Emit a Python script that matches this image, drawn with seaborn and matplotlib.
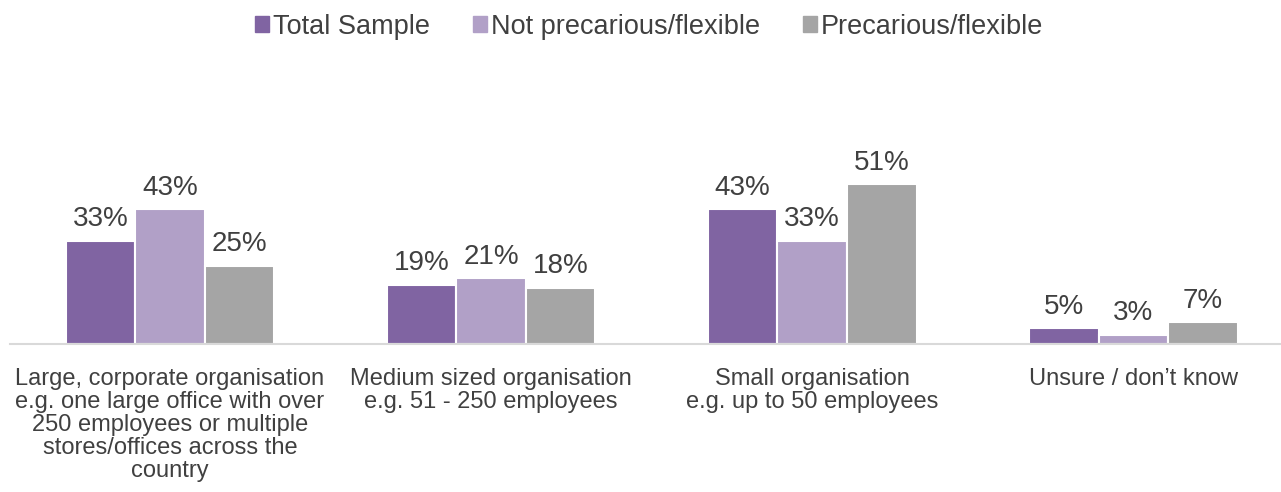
import matplotlib
matplotlib.use("Agg")
import matplotlib.pyplot as plt
import seaborn as sns
import pandas as pd

categories = [
    "Large, corporate organisation\ne.g. one large office with over\n250 employees or multiple\nstores/offices across the\ncountry",
    "Medium sized organisation\ne.g. 51 - 250 employees",
    "Small organisation\ne.g. up to 50 employees",
    "Unsure / don\u2019t know",
]
series = ["Total Sample", "Not precarious/flexible", "Precarious/flexible"]
total_sample = [33, 19, 43, 5]
not_precarious = [43, 21, 33, 3]
precarious = [25, 18, 51, 7]
colors = ["#8064a2", "#b1a0c7", "#a5a5a5"]

rows = []
for name, vals in zip(series, [total_sample, not_precarious, precarious]):
    for cat, v in zip(categories, vals):
        rows.append({"category": cat, "group": name, "value": v})
df = pd.DataFrame(rows)

sns.set_theme(style="white")
plt.rcParams["font.family"] = ["Liberation Sans", "DejaVu Sans"]
text_color = "#404040"

fig = plt.figure(figsize=(12.81, 4.92), dpi=100)
W, H = 1281, 492
ax = fig.add_axes([9.5 / W, (H - 344) / H, 1271.5 / W, 244 / H])

sns.barplot(data=df, x="category", y="value", hue="group", order=categories,
            hue_order=series, palette=colors, width=0.65, ax=ax, saturation=1,
            edgecolor="white", linewidth=1.5, legend=False, errorbar=None)

for cont in ax.containers:
    ax.bar_label(cont, fmt="%d%%", padding=6, fontsize=20, color=text_color)

ax.set_ylim(0, 78)
ax.set_xlim(-0.5, 3.46)
ax.set_xlabel("")
ax.set_ylabel("")
ax.set_yticks([])
ax.tick_params(axis="x", length=0, pad=17.5, labelsize=17, labelcolor=text_color)
for lab in ax.get_xticklabels():
    lab.set_horizontalalignment("center")
    lab.set_multialignment("center")
    lab.set_linespacing(1.06)
for s in ["top", "right", "left"]:
    ax.spines[s].set_visible(False)
ax.spines["bottom"].set_color("#d9d9d9")
ax.spines["bottom"].set_linewidth(1.5)

handles = [plt.Rectangle((0, 0), 1, 1, color=c) for c in colors]
fig.legend(handles, series, loc="upper center", bbox_to_anchor=(0.507, 1.022),
           ncol=3, frameon=False, fontsize=19.5, labelcolor=text_color,
           handlelength=0.5, handleheight=0.5, handletextpad=0.15,
           columnspacing=1.6)

fig.savefig("out.png", dpi=100)
